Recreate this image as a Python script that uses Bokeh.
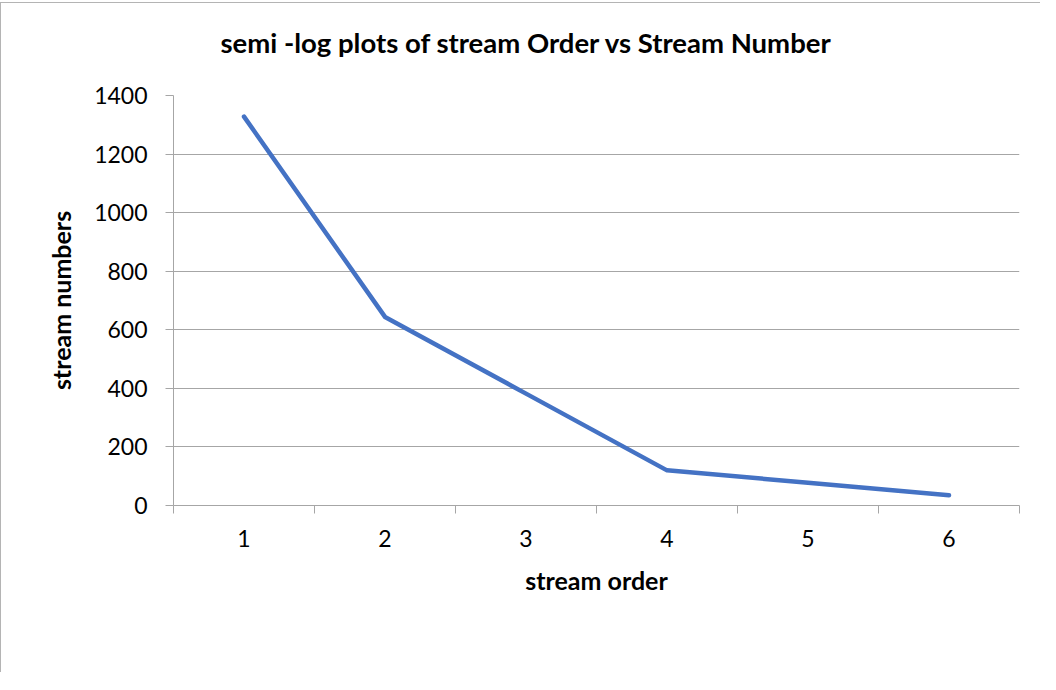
from bokeh.plotting import figure
from bokeh.models import FixedTicker, Range1d, Title
from bokeh.embed import file_html
from bokeh.resources import INLINE

# ---- data ----
stream_order = [1, 2, 3, 4, 5, 6]
stream_numbers = [1328, 644, 382, 120, 78, 35]
y_ticks = [0, 200, 400, 600, 800, 1000, 1200, 1400]
category_bounds = [0.5, 1.5, 2.5, 3.5, 4.5, 5.5, 6.5]
title_text = "semi -log plots of stream  Order vs Stream Number"
x_title = "stream order"
y_title = "stream numbers"

FONT = "Lato"
GRAY = "#a6a6a6"

p = figure(width=1040, height=670, output_backend="svg", toolbar_location=None,
           x_range=Range1d(category_bounds[0], category_bounds[-1]),
           y_range=Range1d(y_ticks[0], y_ticks[-1]),
           min_border_left=172, min_border_right=22,
           min_border_top=92, min_border_bottom=168)
p.styles = {"border-left": "1px solid #b4b4b4", "border-top": "1px solid #b4b4b4",
            "margin-top": "2px"}
p.outline_line_color = None
p.background_fill_color = "white"
p.border_fill_color = "white"

# spacer between the title and the plot area
spacer = Title(text=" ", text_font_size="1px", standoff=29)
p.add_layout(spacer, "above")

# title
p.title.text = title_text
p.title.text_font = FONT
p.title.text_font_size = "27.5px"
p.title.text_font_style = "bold"
p.title.text_color = "black"
p.title.align = "left"
p.title.offset = 47
p.title.standoff = 10

# grids
p.xgrid.grid_line_color = None
p.ygrid.ticker = FixedTicker(ticks=y_ticks)
p.ygrid.grid_line_color = GRAY
p.ygrid.grid_line_width = 1

# y axis
p.yaxis.ticker = FixedTicker(ticks=y_ticks)
p.yaxis.axis_line_color = GRAY
p.yaxis.major_tick_line_color = GRAY
p.yaxis.major_tick_out = 8
p.yaxis.major_tick_in = 0
p.yaxis.minor_tick_line_color = None
p.yaxis.major_label_text_font = FONT
p.yaxis.major_label_text_font_size = "23px"
p.yaxis.major_label_text_color = "black"
p.yaxis.major_label_standoff = 18
p.yaxis.axis_label = y_title
p.yaxis.axis_label_text_font = FONT
p.yaxis.axis_label_text_font_size = "25px"
p.yaxis.axis_label_text_font_style = "bold"
p.yaxis.axis_label_text_color = "black"
p.yaxis.axis_label_standoff = 15

# x axis
p.xaxis.ticker = FixedTicker(ticks=stream_order, minor_ticks=category_bounds)
p.xaxis.axis_line_color = GRAY
p.xaxis.major_tick_line_color = None
p.xaxis.major_tick_out = 0
p.xaxis.major_tick_in = 0
p.xaxis.minor_tick_line_color = GRAY
p.xaxis.minor_tick_out = 8
p.xaxis.minor_tick_in = 0
p.xaxis.major_label_text_font = FONT
p.xaxis.major_label_text_font_size = "23px"
p.xaxis.major_label_text_color = "black"
p.xaxis.major_label_standoff = 16
p.xaxis.axis_label = x_title
p.xaxis.axis_label_text_font = FONT
p.xaxis.axis_label_text_font_size = "25px"
p.xaxis.axis_label_text_font_style = "bold"
p.xaxis.axis_label_text_color = "black"
p.xaxis.axis_label_standoff = 15

p.line(stream_order, stream_numbers, line_color="#4472C4", line_width=4.5,
       line_cap="round", line_join="round")

open("out.html", "w").write(file_html(p, INLINE))
